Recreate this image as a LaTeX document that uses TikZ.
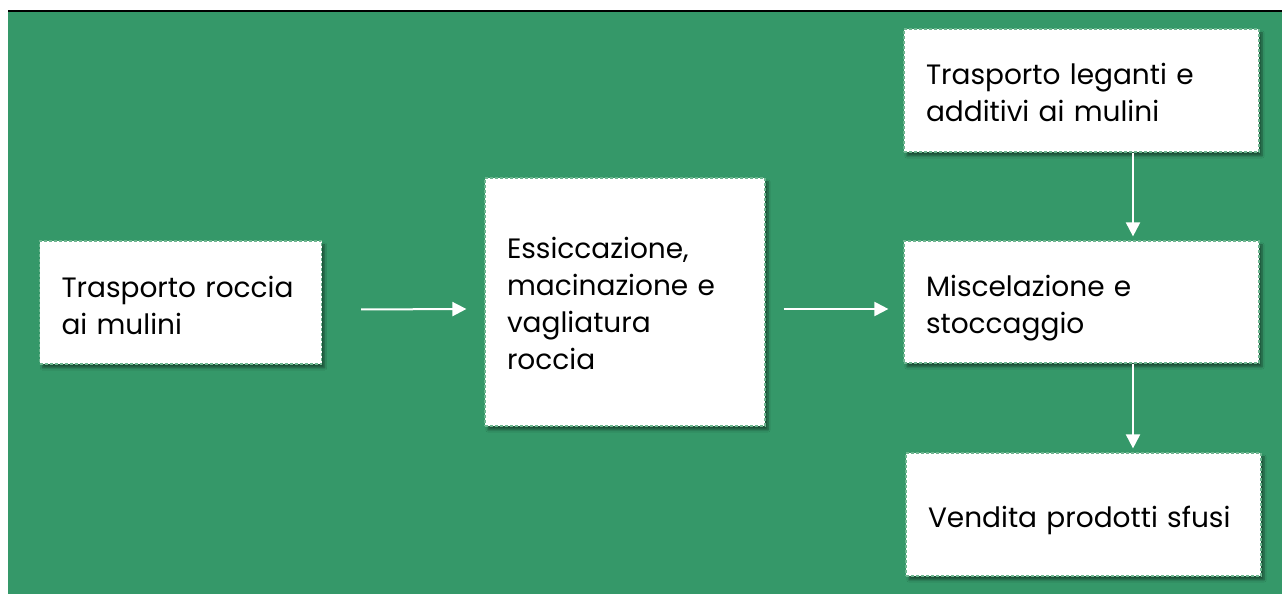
\documentclass[tikz,border=0pt]{standalone}
\usepackage{fontspec}
\setmainfont{Poppins}
\usetikzlibrary{arrows.meta,shadows.blur}
\definecolor{bggreen}{HTML}{359869}
\definecolor{edgegreen}{HTML}{6DB58F}
\tikzset{
  x=1pt,y=1pt,
  box/.style={draw=edgegreen, line width=1.2pt, dash pattern=on 3pt off 2pt, fill=white,
    inner sep=0pt,
    blur shadow={shadow xshift=3pt, shadow yshift=-4pt, shadow blur steps=6, shadow opacity=45}},
  txt/.style={inner sep=0pt, align=left, font=\fontsize{28}{37}\selectfont},
  arr/.style={draw=white, line width=2pt, -{Triangle[length=14pt,width=14pt]}}
}
\begin{document}
\begin{tikzpicture}
\useasboundingbox (0,0) rectangle (1282,594);
\fill[white] (0,0) rectangle (1282,594);
\fill[bggreen] (8,0) rectangle (1282,583);
\draw[black, line width=1.5pt] (8,583) -- (1282,583);
\node[box, minimum width=282, minimum height=123] (b1) at (180.5,291.5) {};
\node[txt, text width=238] (t1) at ([yshift=-3pt]b1.center) {Trasporto roccia\\ai mulini};
\node[box, minimum width=280, minimum height=248] (b2) at (625,292) {};
\node[txt, text width=236] (t2) at ([yshift=-1pt]b2.center) {Essiccazione,\\macinazione e\\vagliatura\\roccia};
\node[box, minimum width=355, minimum height=123] (b3) at (1081.5,503.5) {};
\node[txt, text width=311] (t3) at ([yshift=-2pt]b3.center) {Trasporto leganti e\\additivi ai mulini};
\node[box, minimum width=355, minimum height=122] (b4) at (1081.5,292) {};
\node[txt, text width=311] (t4) at ([yshift=-6pt]b4.center) {Miscelazione e\\stoccaggio};
\node[box, minimum width=355, minimum height=123] (b5) at (1083.5,79.5) {};
\node[txt, text width=311] (t5) at ([yshift=-6pt]b5.center) {Vendita prodotti sfusi};
\draw[arr] ([xshift=39pt,yshift=-7pt]b1.east) -- ([xshift=-18pt,yshift=-7pt]b2.west);
\draw[arr] ([xshift=18pt,yshift=-7pt]b2.east) -- ([xshift=-15pt,yshift=-7pt]b4.west);
\draw[arr] ([xshift=51.5pt]b3.south) -- ([xshift=51.5pt,yshift=4pt]b4.north);
\draw[arr] ([xshift=51.5pt]b4.south) -- ([xshift=49.5pt,yshift=4pt]b5.north);
\end{tikzpicture}
\end{document}
